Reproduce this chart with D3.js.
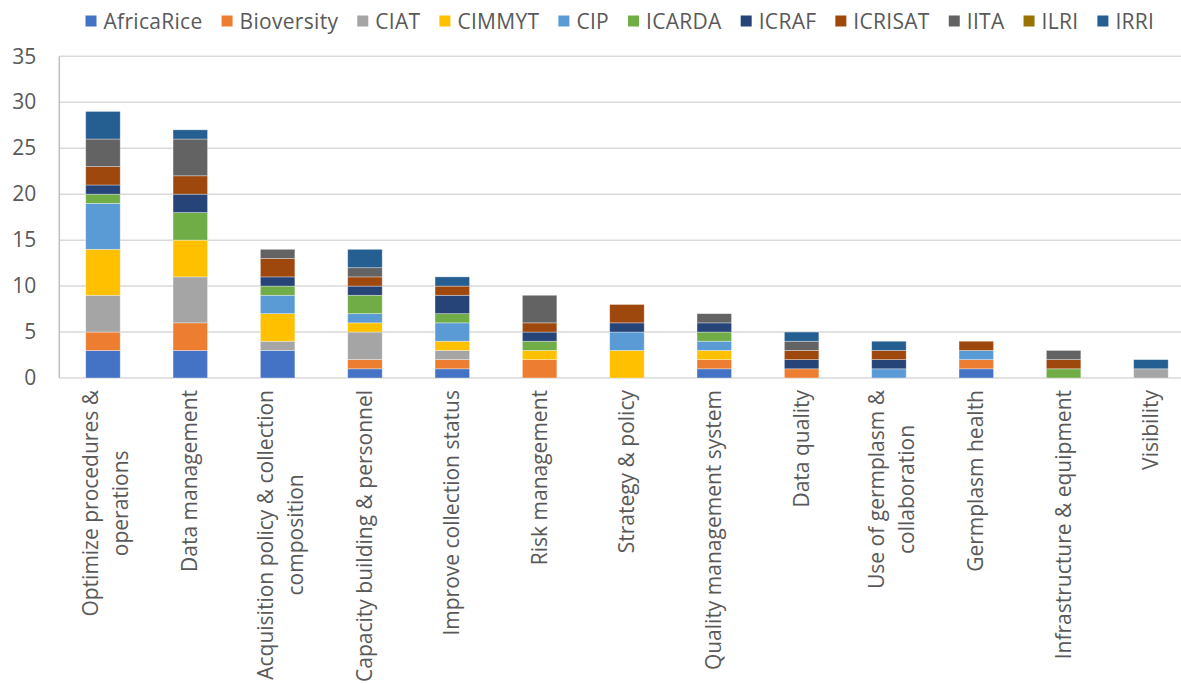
<!DOCTYPE html>
<html>
<head>
<meta charset="utf-8">
<script src="https://cdn.jsdelivr.net/npm/d3@7"></script>
<style>
  body { margin: 0; background: #fff; }
  text { font-family: "Open Sans", sans-serif; fill: #595959; }
  .legend text { letter-spacing: 0.3px; }
</style>
</head>
<body>
<div id="canvas"></div>
<script>
// data
const categories = [
  "Optimize procedures & operations", "Data management",
  "Acquisition policy & collection composition", "Capacity building & personnel",
  "Improve collection status", "Risk management", "Strategy & policy",
  "Quality management system", "Data quality", "Use of germplasm & collaboration",
  "Germplasm health", "Infrastructure & equipment", "Visibility"
];
const tickLabels = [
  ["Optimize procedures &", "operations"], ["Data management"],
  ["Acquisition policy & collection", "composition"], ["Capacity building & personnel"],
  ["Improve collection status"], ["Risk management"], ["Strategy & policy"],
  ["Quality management system"], ["Data quality"], ["Use of germplasm &", "collaboration"],
  ["Germplasm health"], ["Infrastructure & equipment"], ["Visibility"]
];
const seriesNames = ["AfricaRice", "Bioversity", "CIAT", "CIMMYT", "CIP", "ICARDA",
                     "ICRAF", "ICRISAT", "IITA", "ILRI", "IRRI"];
const seriesColors = ["#4472C4", "#ED7D31", "#A5A5A5", "#FFC000", "#5B9BD5", "#70AD47",
                      "#264478", "#9E480E", "#636363", "#997300", "#255E91"];

const africaRice = [3, 3, 3, 1, 1, 0, 0, 1, 0, 0, 1, 0, 0];
const bioversity = [2, 3, 0, 1, 1, 2, 0, 1, 1, 0, 1, 0, 0];
const ciat       = [4, 5, 1, 3, 1, 0, 0, 0, 0, 0, 0, 0, 1];
const cimmyt     = [5, 4, 3, 1, 1, 1, 3, 1, 0, 0, 0, 0, 0];
const cip        = [5, 0, 2, 1, 2, 0, 2, 1, 0, 1, 1, 0, 0];
const icarda     = [1, 3, 1, 2, 1, 1, 0, 1, 0, 0, 0, 1, 0];
const icraf      = [1, 2, 1, 1, 2, 1, 1, 1, 1, 1, 0, 0, 0];
const icrisat    = [2, 2, 2, 1, 1, 1, 2, 0, 1, 1, 1, 1, 0];
const iita       = [3, 4, 1, 1, 0, 3, 0, 1, 1, 0, 0, 1, 0];
const ilri       = [0, 0, 0, 0, 0, 0, 0, 0, 0, 0, 0, 0, 0];
const irri       = [3, 1, 0, 2, 1, 0, 0, 0, 1, 1, 0, 0, 1];
const seriesValues = [africaRice, bioversity, ciat, cimmyt, cip, icarda,
                      icraf, icrisat, iita, ilri, irri];

const yTicks = [0, 5, 10, 15, 20, 25, 30, 35];

// dimensions
const width = 1181;
const height = 684;
const plot = {left: 59.3, right: 1194.6, top: 56.3, bottom: 378};
const fontSize = 21;

var svg = d3.select("#canvas").append("svg")
  .attr("width", width)
  .attr("height", height);

// table for the stack
const table = categories.map(function(c, i) {
  const row = {category: c};
  seriesNames.forEach(function(s, j) { row[s] = seriesValues[j][i]; });
  return row;
});

var x = d3.scaleBand()
  .domain(categories)
  .range([plot.left, plot.right])
  .paddingInner(0.605)
  .paddingOuter(0.3025);

var y = d3.scaleLinear()
  .domain([0, 35])
  .range([plot.bottom, plot.top]);

// gridlines
svg.append("g")
  .selectAll("line")
  .data(yTicks)
  .join("line")
  .attr("x1", plot.left)
  .attr("x2", plot.right)
  .attr("y1", d => y(d))
  .attr("y2", d => y(d))
  .attr("stroke", "#d9d9d9")
  .attr("stroke-width", 1.5);

// left axis line
svg.append("line")
  .attr("x1", plot.left).attr("x2", plot.left)
  .attr("y1", y(35)).attr("y2", y(0))
  .attr("stroke", "#bfbfbf")
  .attr("stroke-width", 1.5);

// y tick labels
var yAxis = d3.axisLeft(y).tickValues(yTicks).tickSize(0).tickPadding(23);
svg.append("g")
  .attr("transform", `translate(${plot.left},0)`)
  .call(yAxis)
  .call(g => g.select(".domain").remove())
  .selectAll("text")
  .attr("font-size", fontSize)
  .attr("font-family", "Open Sans, sans-serif")
  .attr("fill", "#595959");

// stacked bars
var stack = d3.stack().keys(seriesNames);
var layers = stack(table);

svg.append("g")
  .selectAll("g")
  .data(layers)
  .join("g")
  .attr("fill", (d, i) => seriesColors[i])
  .selectAll("rect")
  .data(d => d.filter(p => p[1] > p[0]))
  .join("rect")
  .attr("x", d => x(d.data.category))
  .attr("width", x.bandwidth())
  .attr("y", d => y(d[1]))
  .attr("height", d => y(d[0]) - y(d[1]))
  .attr("stroke", "#ffffff")
  .attr("stroke-opacity", 0.45)
  .attr("stroke-width", 0.75);

// x tick labels, rotated
const labelTop = 390;
const lineGap = 30;
var ticks = svg.append("g")
  .selectAll("g")
  .data(categories)
  .join("g")
  .attr("transform", d => `translate(${x(d) + x.bandwidth() / 2}, ${labelTop}) rotate(-90)`);

ticks.each(function(d, i) {
  const g = d3.select(this);
  const lines = tickLabels[i];
  const texts = g.selectAll("text")
    .data(lines)
    .join("text")
    .attr("font-size", fontSize)
    .attr("y", (l, k) => 7 - (lines.length - 1) * 12 + k * lineGap)
    .text(l => l);
  let maxW = 0;
  texts.each(function() { maxW = Math.max(maxW, this.getComputedTextLength()); });
  texts.attr("text-anchor", "middle").attr("x", -maxW / 2);
});

// legend
var legend = svg.append("g").attr("class", "legend");
let lx = 85.5;
seriesNames.forEach(function(name, i) {
  legend.append("rect")
    .attr("x", lx)
    .attr("y", 15.5)
    .attr("width", 11)
    .attr("height", 11)
    .attr("fill", seriesColors[i]);
  const t = legend.append("text")
    .attr("x", lx + 18)
    .attr("y", 21)
    .attr("dominant-baseline", "central")
    .attr("font-size", fontSize)
    .text(name);
  lx += 18 + t.node().getComputedTextLength() + 19;
});
</script>
</body>
</html>
